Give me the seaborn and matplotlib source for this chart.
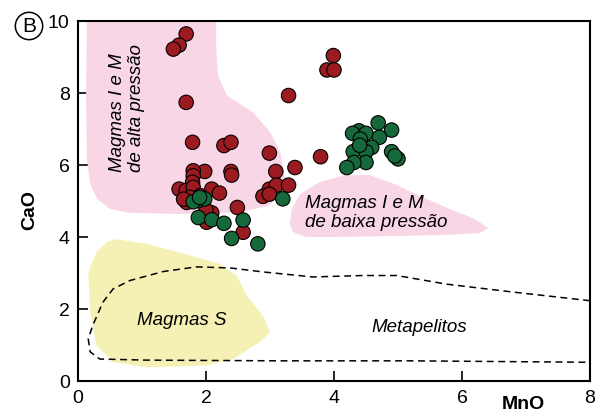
import matplotlib
matplotlib.use("Agg")
import matplotlib.pyplot as plt
import seaborn as sns
import pandas as pd

# ---- data ----
red_x = [1.69, 1.58, 1.49, 3.99, 3.89, 4.00, 3.29, 1.69, 1.79, 2.28, 2.39, 2.99, 3.79,
         3.39, 3.09, 1.98, 2.39, 2.40, 1.80, 1.80, 1.79, 1.58, 1.69, 1.80, 2.09, 2.21,
         1.91, 2.99, 3.10, 3.29, 2.89, 2.99, 2.49, 2.09, 2.01, 2.58, 1.70, 1.75, 2.00, 1.65]
red_y = [9.64, 9.33, 9.22, 9.04, 8.64, 8.64, 7.93, 7.74, 6.63, 6.54, 6.63, 6.33, 6.23,
         5.93, 5.82, 5.82, 5.82, 5.72, 5.84, 5.70, 5.52, 5.33, 5.29, 5.38, 5.33, 5.22,
         5.15, 5.33, 5.44, 5.44, 5.13, 5.19, 4.82, 4.67, 4.41, 4.13, 4.96, 5.10, 4.75, 5.05]

green_x = [1.88, 1.80, 1.98, 1.90, 3.20, 1.88, 2.09, 2.28, 2.58, 2.40, 2.81,
           4.69, 4.90, 4.39, 4.29, 4.50, 4.71, 4.41, 4.59, 4.30, 4.50, 4.90, 5.00,
           4.50, 4.31, 4.20, 4.40, 4.95]
green_y = [5.01, 4.98, 5.06, 5.10, 5.06, 4.54, 4.48, 4.38, 4.47, 3.96, 3.81,
           7.17, 6.97, 6.95, 6.88, 6.88, 6.77, 6.72, 6.49, 6.37, 6.37, 6.37, 6.17,
           6.07, 6.07, 5.93, 6.55, 6.25]

# field outlines (data coordinates)
alta_x = [0.14, 2.16, 2.16, 2.19, 2.33, 2.73, 3.00, 3.16, 3.23, 3.22, 2.97, 2.53,
          1.59, 0.81, 0.50, 0.30, 0.19, 0.14, 0.125]
alta_y = [10.2, 10.2, 9.22, 8.47, 7.92, 7.47, 6.92, 6.36, 5.69, 5.28, 4.86, 4.69,
          4.64, 4.67, 4.78, 5.06, 5.47, 6.17, 7.83]

baixa_x = [3.31, 3.34, 3.47, 3.78, 4.17, 4.56, 4.95, 5.34, 5.81, 6.20, 6.41, 6.28,
           5.81, 5.03, 4.09, 3.55, 3.36]
baixa_y = [4.36, 4.78, 5.19, 5.53, 5.72, 5.72, 5.47, 5.14, 4.78, 4.50, 4.25, 4.11,
           4.06, 4.03, 4.00, 4.00, 4.14]

s_x = [0.60, 1.07, 1.59, 2.22, 2.48, 2.64, 2.89, 3.00, 2.84, 2.42, 2.01, 1.07,
       0.55, 0.29, 0.19, 0.16, 0.29, 0.45]
s_y = [3.94, 3.81, 3.57, 3.25, 2.92, 2.37, 1.81, 1.35, 1.08, 0.61, 0.43, 0.38,
       0.53, 0.98, 1.92, 3.03, 3.58, 3.86]

meta_x = [8.0, 6.80, 5.76, 4.98, 4.45, 3.67, 2.89, 2.38, 1.85, 1.33, 0.81, 0.55,
          0.39, 0.23, 0.16, 0.19, 0.34, 1.07, 3.16, 5.23, 8.0]
meta_y = [2.23, 2.47, 2.69, 2.93, 2.93, 2.89, 3.03, 3.14, 3.17, 3.04, 2.79, 2.56,
          2.19, 1.54, 1.17, 0.81, 0.61, 0.58, 0.56, 0.56, 0.52]

x_ticks = [0, 2, 4, 6, 8]
y_ticks = [0, 2, 4, 6, 8, 10]

RED = "#9c1b21"
GREEN = "#15693a"
PINK = "#f9d6e6"
YELLOW = "#f5f1b4"

sns.set_style("white")
plt.rcParams['font.family'] = ['Liberation Sans', 'DejaVu Sans']
plt.rcParams['text.color'] = 'black'
plt.rcParams['axes.labelcolor'] = 'black'
plt.rcParams['xtick.color'] = 'black'
plt.rcParams['ytick.color'] = 'black'

fig = plt.figure(figsize=(5.96, 4.14), dpi=100)
ax = fig.add_axes([78 / 596, 1 - 382 / 414, 512 / 596, 360 / 414])

ax.fill(alta_x, alta_y, color=PINK, lw=0, zorder=1)
ax.fill(baixa_x, baixa_y, color=PINK, lw=0, zorder=1)
ax.fill(s_x, s_y, color=YELLOW, lw=0, zorder=1)
ax.plot(meta_x, meta_y, color="black", lw=1.1, ls=(0, (4.5, 3)), zorder=2)

df = pd.DataFrame({
    "MnO": red_x + green_x,
    "CaO": red_y + green_y,
    "grp": ["red"] * len(red_x) + ["green"] * len(green_x),
})
sns.scatterplot(data=df, x="MnO", y="CaO", hue="grp",
                palette={"red": RED, "green": GREEN}, s=108,
                edgecolor="black", linewidth=0.8, legend=False, ax=ax, zorder=5,
                clip_on=True)

tfs = 13.5
ax.text(0.77, 7.62, "Magmas I e M\nde alta pressão", rotation=90, style="italic",
        fontsize=tfs, ha="center", va="center", multialignment="left",
        linespacing=1.15, zorder=3)
ax.text(3.55, 4.69, "Magmas I e M\nde baixa pressão", style="italic",
        fontsize=tfs, ha="left", va="center", multialignment="left",
        linespacing=1.15, zorder=3)
ax.text(1.62, 1.70, "Magmas S", style="italic", fontsize=tfs,
        ha="center", va="center", zorder=3)
ax.text(5.33, 1.50, "Metapelitos", style="italic", fontsize=tfs,
        ha="center", va="center", zorder=3)

ax.set_xlim(0, 8)
ax.set_ylim(0, 10)
ax.set_xticks(x_ticks)
ax.set_yticks(y_ticks)
ax.set_xticklabels([str(v) for v in x_ticks])
ax.set_yticklabels([str(v) for v in y_ticks])
ax.tick_params(direction="in", length=7, width=1.2, labelsize=14, pad=6,
               colors="black", bottom=True, left=True, top=False, right=False)
for sp in ax.spines.values():
    sp.set_visible(True)
    sp.set_linewidth(1.5)
    sp.set_color("black")
ax.set_xlabel("")
ax.set_ylabel("")

fig.text(30 / 596, 1 - 210 / 414, "CaO", rotation=90, fontsize=14,
         fontweight="bold", ha="center", va="center")
fig.text(523 / 596, 1 - 405 / 414, "MnO", fontsize=14, fontweight="bold",
         ha="center", va="center")
fig.text(29 / 596, 1 - 27 / 414, "B", fontsize=15, ha="center", va="center",
         bbox=dict(boxstyle="circle,pad=0.2", fc="white", ec="black", lw=1.1))

fig.savefig("out.png", dpi=100)
